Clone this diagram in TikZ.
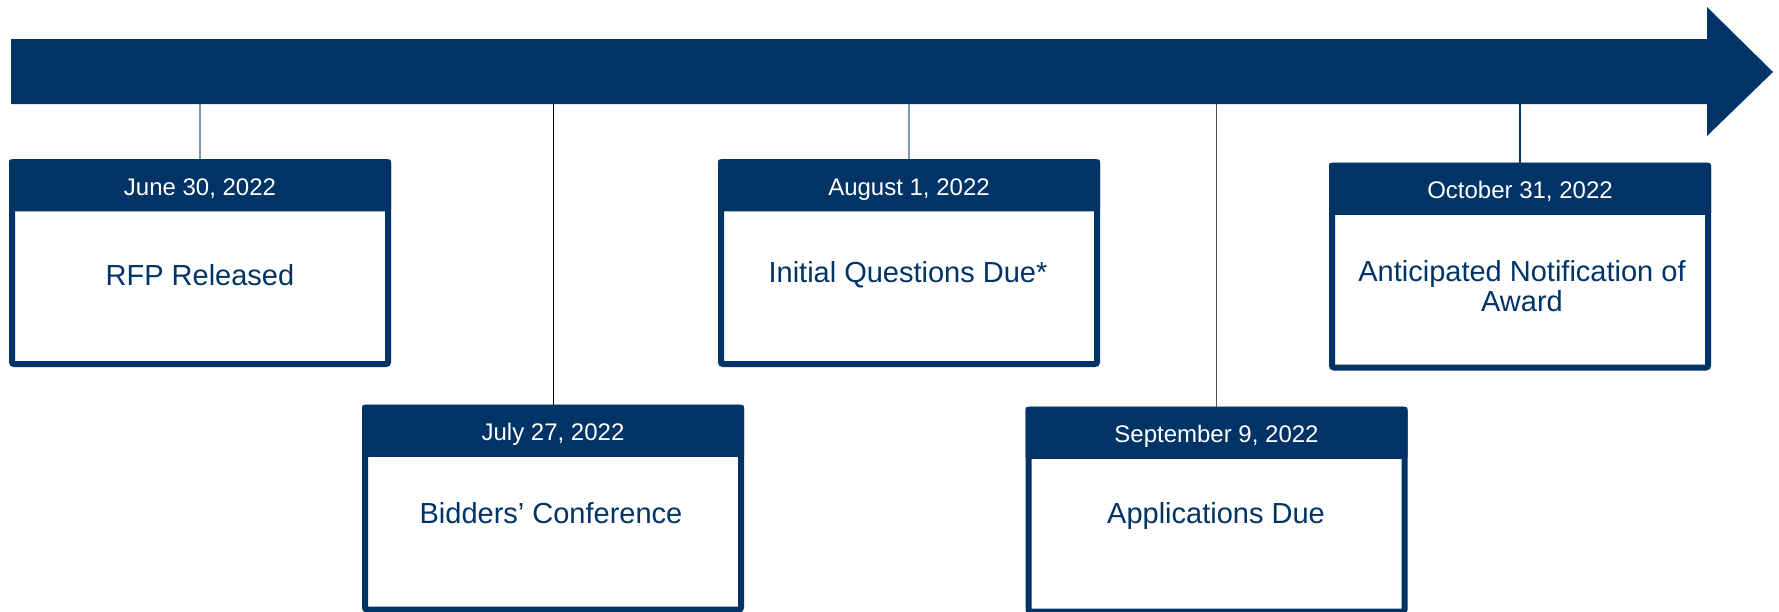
\documentclass[tikz,border=0pt]{standalone}
\usepackage{fontspec}
\setmainfont{Liberation Sans}
\usepackage{tikz}

\definecolor{navy}{RGB}{0,51,102}
\definecolor{steel}{RGB}{125,150,182}
\definecolor{darkgrey}{RGB}{80,80,80}

\tikzset{
	card/.style={draw=navy, fill=white, line width=3pt, rounded corners=1pt,
		minimum width=188pt, minimum height=101pt},
	datebar/.style={fill=navy, text=white, rounded corners=1pt, inner sep=0pt,
		minimum width=191pt, minimum height=26pt, text height=9.6pt, text depth=0pt,
		font=\fontsize{12}{14}\selectfont},
	label/.style={text=navy, align=center, font=\fontsize{14.5}{15}\selectfont},
	stem/.style={line width=0.7pt}
}

\begin{document}
\begin{tikzpicture}[x=0.5pt, y=-0.5pt]

	\useasboundingbox (0,0) rectangle (1779,611);

	% the time line
	\fill[navy] (11,39) -- (1707,39) -- (1707,7) -- (1773,72)
		-- (1707,136) -- (1707,104) -- (11,104) -- cycle;
	\coordinate (barbase) at (11,104);

	% cards
	\node[card] (b1) at (200,263) {};
	\node[card] (b2) at (553,508.5) {};
	\node[card] (b3) at (909,263) {};
	\node[card] (b4) at (1216.5,510.5) {};
	\node[card] (b5) at (1520,266.5) {};

	\node[datebar, anchor=north] (d1) at (b1.north) {June 30, 2022};
	\node[datebar, anchor=north] (d2) at (b2.north) {July 27, 2022};
	\node[datebar, anchor=north] (d3) at (b3.north) {August 1, 2022};
	\node[datebar, anchor=north] (d4) at (b4.north) {September 9, 2022};
	\node[datebar, anchor=north] (d5) at (b5.north) {October 31, 2022};

	\node[label] (t1) at (200,275) {RFP Released};
	\node[label] (t2) at (551,513) {Bidders’ Conference};
	\node[label] (t3) at (908,275) {Initial Questions Due*};
	\node[label] (t4) at (1216,516) {Applications Due};
	\node[label] (t5) at (1522,286) {Anticipated Notification of\\Award};

	% stems up to the bar
	\draw[stem, steel] (d1.north) -- (d1.north |- barbase);
	\draw[stem, black, line width=0.5pt] (d2.north) -- (d2.north |- barbase);
	\draw[stem, steel] (d3.north) -- (d3.north |- barbase);
	\draw[stem, darkgrey] (d4.north) -- (d4.north |- barbase);
	\draw[stem, navy] (d5.north) -- (d5.north |- barbase);

\end{tikzpicture}
\end{document}
